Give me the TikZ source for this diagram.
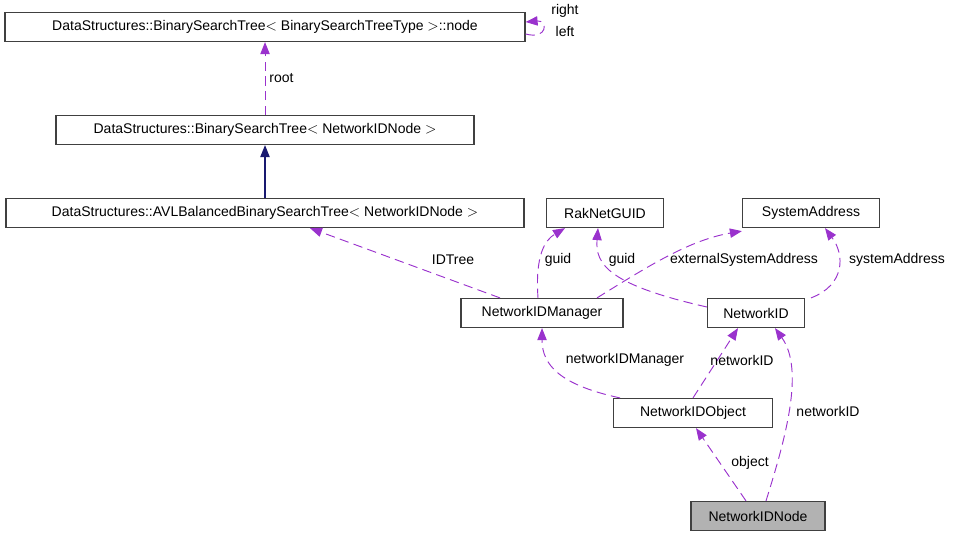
\documentclass[tikz,border=0pt]{standalone}
\usepackage{fontspec}
\setmainfont{Liberation Sans}
\usetikzlibrary{arrows.meta,positioning}
\definecolor{usecol}{RGB}{154,50,205}
\definecolor{inhcol}{RGB}{25,25,112}

\tikzset{
  cls/.style={draw=black!75,line width=0.9pt,minimum height=29*0.75pt,inner sep=0pt,font=\fontsize{10.5}{12}\selectfont},
  use/.style={draw=usecol,dash pattern=on 7pt off 4pt,line width=0.7pt,
    -{Triangle[length=9pt,width=7pt,fill=usecol,sharp]}},
  inh/.style={draw=inhcol,line width=0.8pt,-{Triangle[length=9pt,width=7pt]}},
  lbl/.style={font=\fontsize{10.5}{12}\selectfont,inner sep=1pt}
}

\begin{document}
\begin{tikzpicture}[x=0.75pt,y=-0.75pt]
  \useasboundingbox (0,0) rectangle (960,539);

  \node[cls,minimum width=520*0.75pt](bstnode) at (265,27){DataStructures::BinarySearchTree$<$ BinarySearchTreeType $>$::node};
  \node[cls,minimum width=418*0.75pt](bst) at (265,130){DataStructures::BinarySearchTree$<$ NetworkIDNode $>$};
  \node[cls,minimum width=518*0.75pt](avl) at (265,213){DataStructures::AVLBalancedBinarySearchTree$<$ NetworkIDNode $>$};
  \node[cls,minimum width=117*0.75pt](guid) at (605,213){RakNetGUID};
  \node[cls,minimum width=137*0.75pt](sysaddr) at (811,213){SystemAddress};
  \node[cls,minimum width=162*0.75pt](manager) at (542,313){NetworkIDManager};
  \node[cls,minimum width=97*0.75pt](netid) at (756,313){NetworkID};
  \node[cls,minimum width=159*0.75pt](object) at (693,413){NetworkIDObject};
  \node[cls,minimum width=134*0.75pt,fill=black!30](idnode) at (758,516){NetworkIDNode};

  % self loop
  \draw[use] ([yshift=-7*0.75pt]bstnode.east) .. controls (548,40) and (548,20) .. ([yshift=5*0.75pt]bstnode.east);
  \node[lbl] (lright) at (565,11){right};
  \node[lbl] (lleft) at (565,31){left};

  \draw[use] (bst.north) -- node[lbl,right=2pt]{root} (bstnode.south);
  \draw[inh] (avl.north) -- (bst.south);

  \draw[use] ([xshift=-42*0.75pt]manager.north) -- ([xshift=45*0.75pt]avl.south);
  \node[lbl] at (453,260){IDTree};

  \draw[use] ([xshift=-4*0.75pt]manager.north) .. controls (535,255) and (545,240) .. ([xshift=-40*0.75pt]guid.south);
  \node[lbl] at (558,260){guid};

  \draw[use] ([xshift=55*0.75pt]manager.north) .. controls (650,265) and (690,240) .. ([yshift=-3*0.75pt]sysaddr.south west);
  \node[lbl] at (744,260){externalSystemAddress};

  \draw[use] ([yshift=6*0.75pt]netid.west) .. controls (610,285) and (595,265) .. ([xshift=-7*0.75pt]guid.south);
  \node[lbl] at (622,260){guid};

  \draw[use] ([xshift=55*0.75pt]netid.north) .. controls (845,285) and (845,255) .. ([xshift=14*0.75pt]sysaddr.south);
  \node[lbl] at (897,260){systemAddress};

  \draw[use] ([xshift=-73*0.75pt]object.north) .. controls (560,385) and (542,365) .. (manager.south);
  \node[lbl] at (625,360){networkIDManager};

  \draw[use] (object.north) -- ([xshift=-18*0.75pt]netid.south);
  \node[lbl] at (742,360){networkID};

  \draw[use] ([xshift=8*0.75pt]idnode.north) .. controls (785,440) and (805,370) .. ([xshift=19*0.75pt]netid.south);
  \node[lbl] at (828,411){networkID};

  \draw[use] ([xshift=-12*0.75pt]idnode.north) -- ([xshift=3*0.75pt]object.south);
  \node[lbl] at (750,463){object};
\end{tikzpicture}
\end{document}
